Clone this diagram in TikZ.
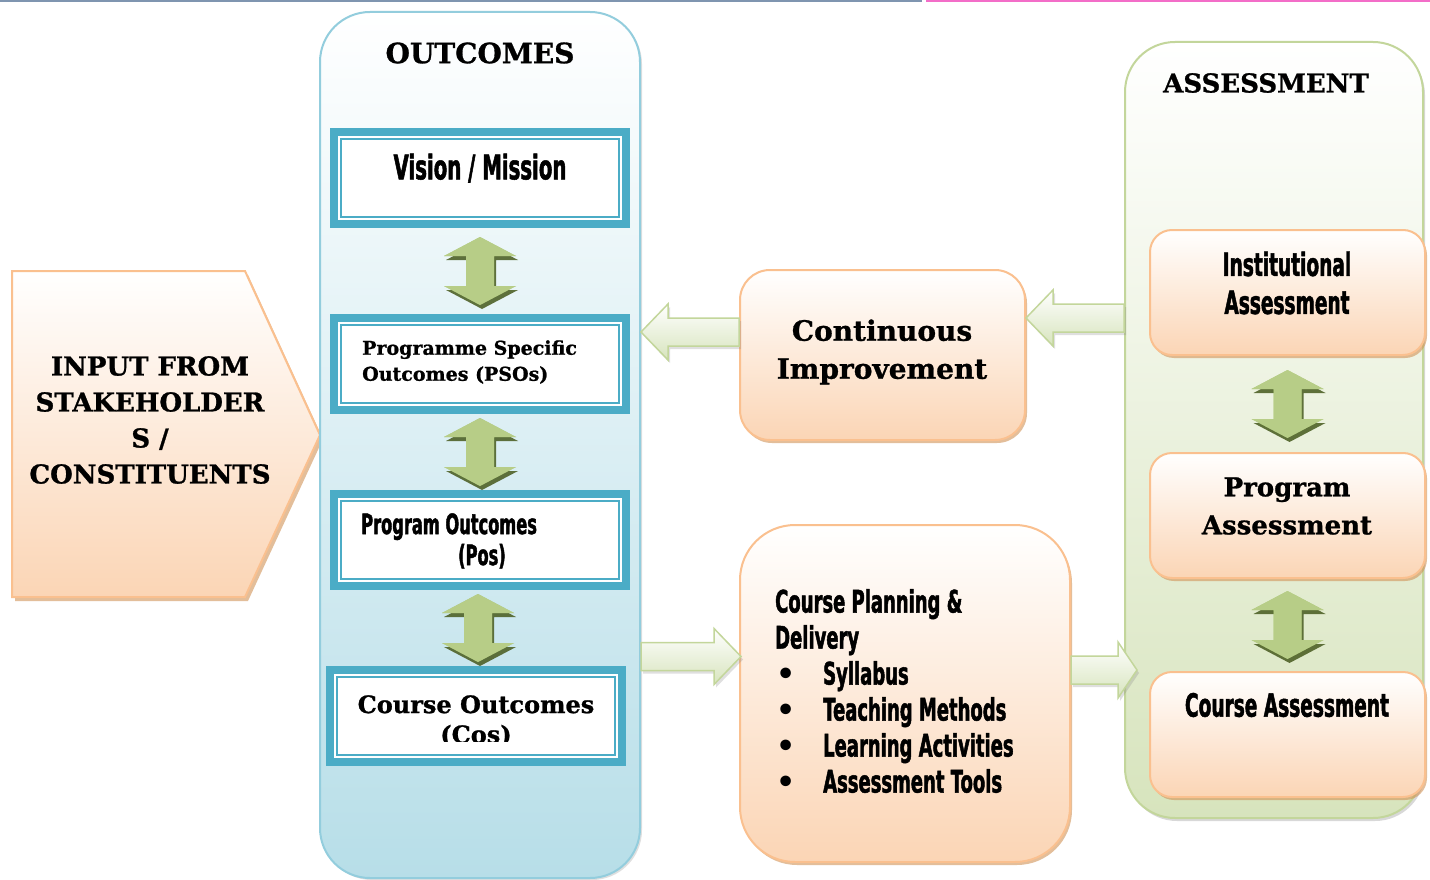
\documentclass[tikz,border=0pt]{standalone}
\usepackage{fontspec}
\usetikzlibrary{calc,shadows,positioning}

\newfontfamily\posterfont{DejaVu Serif}[FakeBold=1]
\newfontfamily\narrowfont{DejaVu Sans}[FakeStretch=0.58,FakeBold=1.5]
\newfontfamily\dotfont{DejaVu Sans}

\definecolor{boxblue}{HTML}{4BACC6}
\definecolor{colblue}{HTML}{93CDDD}
\definecolor{paleblue}{HTML}{B7DEE8}
\definecolor{peach}{HTML}{FBD5B5}
\definecolor{peachline}{HTML}{FAC08F}
\definecolor{palegreen}{HTML}{D7E4BD}
\definecolor{greenline}{HTML}{C3D69B}
\definecolor{arrowgreen}{HTML}{9BBB59}
\definecolor{darkgreen}{HTML}{4F6228}
\definecolor{topblue}{HTML}{7F95B0}
\definecolor{toppink}{HTML}{F36DC8}

\tikzset{
  outcolumn/.style={rectangle, rounded corners=50pt, draw=colblue, line width=2pt,
    top color=white, bottom color=paleblue,
    drop shadow={shadow xshift=2pt, shadow yshift=-2pt, opacity=.25}},
  asscolumn/.style={rectangle, rounded corners=50pt, draw=greenline, line width=2pt,
    top color=white, bottom color=palegreen,
    drop shadow={shadow xshift=2pt, shadow yshift=-3pt, opacity=.3}},
  outbox/.style={rectangle, draw=boxblue, line width=8pt, outer sep=4pt, fill=white,
    minimum width=292pt, minimum height=92pt},
  peachbox/.style={rectangle, draw=peachline, line width=2pt, top color=white,
    bottom color=peach, drop shadow={shadow xshift=2pt, shadow yshift=-3pt,
    fill=brown!70!peachline, opacity=.6}},
  greenblock/.style={fill=arrowgreen,
    drop shadow={shadow xshift=2pt, shadow yshift=-4pt, fill=darkgreen, opacity=.9},
    postaction={top color=greenline, middle color=arrowgreen, bottom color=greenline, opacity=.7}},
  flatblock/.style={draw=greenline, line width=1.5pt, top color=white,
    bottom color=palegreen, line join=miter,
    drop shadow={shadow xshift=2pt, shadow yshift=-3pt, opacity=.25}},
  coltitle/.style={font=\posterfont\bfseries\fontsize{28}{30}\selectfont},
  postertext/.style={font=\posterfont\bfseries\fontsize{26}{38}\selectfont, align=center},
  narrowtext/.style={font=\narrowfont\bfseries\fontsize{32}{38}\selectfont, align=center}
}

\newcommand\bigdot{\makebox[48pt][l]{\hspace*{1pt}{\dotfont\fontsize{30}{36}\selectfont\textbullet}}}

% vertical two-headed block arrow in the gap between two boxes
\newcommand\biarrow[2]{%
  \path[greenblock] let \p1=($(#1.south)!0.5!(#2.north)$) in
    (\x1,\y1+34pt) -- (\x1+36pt,\y1+15pt) -- (\x1+14pt,\y1+15pt)
    -- (\x1+14pt,\y1-15pt) -- (\x1+36pt,\y1-15pt) -- (\x1,\y1-34pt)
    -- (\x1-36pt,\y1-15pt) -- (\x1-14pt,\y1-15pt) -- (\x1-14pt,\y1+15pt)
    -- (\x1-36pt,\y1+15pt) -- cycle;}

% horizontal block arrow: #1 head length, #2 tail, #3 tip
\newcommand\flatarrow[3][27pt]{%
  \path[flatblock] let \p1=(#2), \p2=(#3), \p3=($(#3)!#1!(#2)$) in
    (\x1,\y2+14pt) -- (\x3,\y2+14pt) -- (\x3,\y2+28pt) -- (\x2,\y2)
    -- (\x3,\y2-28pt) -- (\x3,\y2-14pt) -- (\x1,\y2-14pt) -- cycle;}

\begin{document}
\begin{tikzpicture}[x=1pt,y=1pt]
  \useasboundingbox (0,0) rectangle (1430,-880);
  \fill[white] (0,0) rectangle (1430,-880);
  \draw[topblue, line width=2pt] (0,-1) -- (922,-1);
  \draw[toppink, line width=2pt] (926,-1) -- (1430,-1);

  % input from stakeholders
  \coordinate (in1) at (12,-271);
  \coordinate (in2) at (245,-271);
  \coordinate (in3) at (320,-435);
  \coordinate (in4) at (245,-597);
  \coordinate (in5) at (12,-597);
  \path[draw=peachline, line width=2pt, top color=white, bottom color=peach,
    drop shadow={shadow xshift=3pt, shadow yshift=-4pt, fill=brown!70!peachline, opacity=.6}]
    (in1) -- (in2) -- (in3) -- (in4) -- (in5) -- cycle;
  \node[postertext, font=\posterfont\bfseries\fontsize{26}{36}\selectfont] (input) at (150,-420)
    {INPUT FROM\\STAKEHOLDER\\S /\\CONSTITUENTS};

  % outcomes column
  \node[outcolumn, minimum width=320pt, minimum height=866pt] (outcol) at (480,-445) {};
  \node[coltitle] (outtitle) at (480,-53) {OUTCOMES};

  \node[outbox] (vm) at (480,-178) {};
  \node[outbox] (pso) at (480,-364) {};
  \node[outbox] (po) at (480,-540) {};
  \node[outbox] (co) at (476,-716) {};
  \foreach \b in {vm,pso,po,co}
    \draw[boxblue, line width=1.5pt] ($(\b.north west)+(11,-11)$) rectangle ($(\b.south east)+(-11,11)$);

  \node[narrowtext, font=\narrowfont\bfseries\fontsize{34}{38}\selectfont] (vmtext) at (480,-168) {Vision / Mission};
  \node[postertext, font=\posterfont\bfseries\fontsize{19}{26}\selectfont, align=left, anchor=west, inner sep=0pt]
    (psotext) at (362,-362) {Programme Specific\\Outcomes (PSOs)};
  \node[narrowtext, font=\narrowfont\bfseries\fontsize{28}{31}\selectfont, align=left, anchor=west, inner sep=0pt]
    (potext) at (361,-541) {Program Outcomes\\\hspace*{97pt}(Pos)};
  \begin{scope}
    \clip ($(co.north west)+(11,-11)$) rectangle ($(co.east)+(-11,-25)$);
    \node[postertext, font=\posterfont\bfseries\fontsize{24}{30}\selectfont] (cotext) at (476,-721)
      {Course Outcomes\\(Cos)};
  \end{scope}

  \biarrow{vm}{pso}
  \biarrow{pso}{po}
  \biarrow{po}{co}

  % assessment column
  \node[asscolumn, minimum width=298pt, minimum height=776pt] (asscol) at (1274,-430) {};
  \node[coltitle, font=\posterfont\bfseries\fontsize{26}{30}\selectfont] (asstitle) at (1266,-83) {ASSESSMENT};

  \node[peachbox, rounded corners=22pt, minimum width=275pt, minimum height=125pt] (inst) at (1287.5,-292.5) {};
  \node[peachbox, rounded corners=22pt, minimum width=275pt, minimum height=125pt] (prog) at (1287.5,-515.5) {};
  \node[peachbox, rounded corners=22pt, minimum width=275pt, minimum height=125pt] (ca) at (1287.5,-734.5) {};
  \node[narrowtext] (insttext) at (1287,-283) {Institutional\\Assessment};
  \node[postertext] (progtext) at (1287,-506) {Program\\Assessment};
  \node[narrowtext] (catext) at (1287,-705) {Course Assessment};

  \biarrow{inst}{prog}
  \biarrow{prog}{ca}

  % continuous improvement
  \node[peachbox, rounded corners=30pt, minimum width=285pt, minimum height=170pt] (ci) at (882.5,-355) {};
  \node[postertext, font=\posterfont\bfseries\fontsize{28}{38}\selectfont] (citext) at (882,-352)
    {Continuous\\Improvement};

  % course planning and delivery
  \node[peachbox, rounded corners=55pt, minimum width=330pt, minimum height=337pt] (cpd) at (905,-693.5) {};
  \node[narrowtext, font=\narrowfont\bfseries\fontsize{31}{36}\selectfont, align=left, anchor=west, inner sep=0pt]
    (cpdtext) at (775,-691)
    {Course Planning \&\\Delivery\\
     \bigdot Syllabus\\
     \bigdot Teaching Methods\\
     \bigdot Learning Activities\\
     \bigdot Assessment Tools};

  % block arrows between the parts
  \coordinate (ciout) at ($(ci.west)+(0,23)$);
  \flatarrow{ciout}{outcol.east |- ciout}
  \coordinate (ciin) at ($(ci.east)+(0,37)$);
  \flatarrow{asscol.west |- ciin}{ciin}
  \coordinate (cpdin) at ($(cpd.west)+(2,37)$);
  \flatarrow{outcol.east |- cpdin}{cpdin}
  \coordinate (cain) at (1137,-670);
  \flatarrow[19pt]{cpd.east |- cain}{cain}
\end{tikzpicture}
\end{document}
